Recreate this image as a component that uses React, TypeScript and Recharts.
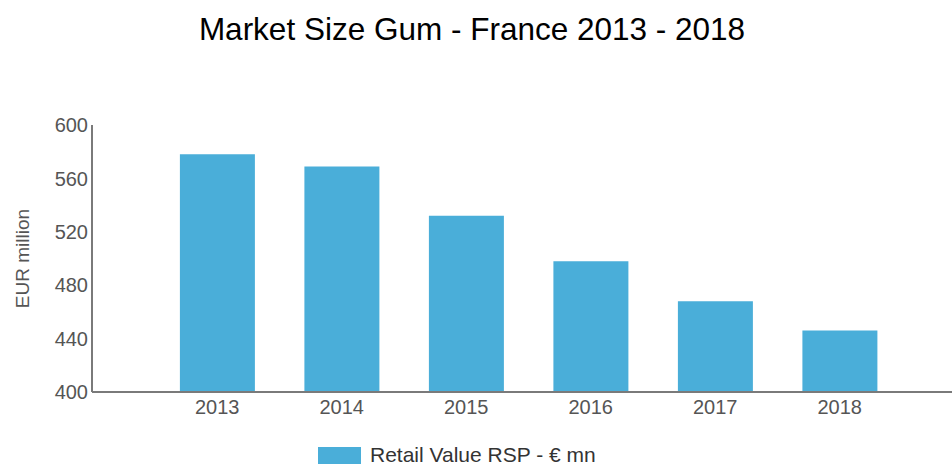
import React from 'react';
import { BarChart, Bar, XAxis, YAxis, Legend } from 'recharts';

const years = ['2013', '2014', '2015', '2016', '2017', '2018'];
const retailValue = [578, 569, 532, 498, 468, 446];
const yTicks = [400, 440, 480, 520, 560, 600];
const seriesName = 'Retail Value RSP - € mn';
const titleText = 'Market Size Gum - France 2013 - 2018';
const yLabel = 'EUR million';

const data = years.map((y, i) => ({ year: y, value: retailValue[i] }));

const FONT = '"Liberation Sans", Arial, sans-serif';
const BAR = '#4aaed9';

const LegendContent = () => (
  <div style={{ display: 'flex', alignItems: 'center', fontFamily: FONT, whiteSpace: 'nowrap', lineHeight: '22px' }}>
    <span style={{ display: 'inline-block', width: 43, height: 17, background: BAR, marginRight: 9 }} />
    <span style={{ fontSize: 21, color: '#333' }}>{seriesName}</span>
  </div>
);

export default function App() {
  return (
    <div style={{ position: 'absolute', left: 0, top: 0, width: 952, height: 467, background: '#fff', fontFamily: FONT }}>
      <div
        style={{
          position: 'absolute',
          left: 0,
          top: 10,
          width: 944,
          textAlign: 'center',
          fontSize: 31.5,
          color: '#000',
          fontFamily: FONT,
          lineHeight: '38px',
          whiteSpace: 'nowrap',
        }}
      >
        {titleText}
      </div>
      <BarChart
        width={952}
        height={467}
        data={data}
        margin={{ top: 125, right: 0, left: 40, bottom: 21 }}
        barCategoryGap="20%"
      >
        <XAxis
          dataKey="year"
          padding={{ left: 63, right: 50 }}
          tickLine={false}
          axisLine={{ stroke: '#7a7a7a', strokeWidth: 2 }}
          tick={{ fill: '#555', fontSize: 20, fontFamily: FONT }}
          height={30}
        />
        <YAxis
          domain={[400, 600]}
          ticks={yTicks}
          width={52}
          tickLine={false}
          tickSize={0}
          tickMargin={4}
          axisLine={{ stroke: '#7a7a7a', strokeWidth: 2 }}
          tick={{ fill: '#555', fontSize: 20, fontFamily: FONT }}
          label={{
            value: yLabel,
            angle: -90,
            position: 'insideLeft',
            offset: 0,
            dx: -18,
            style: { fill: '#555', fontSize: 19, fontFamily: FONT, textAnchor: 'middle' },
          }}
        />
        <Legend
          height={24}
          content={<LegendContent />}
          wrapperStyle={{ left: 318, top: 444, width: 400, height: 24 }}
        />
        <Bar dataKey="value" name={seriesName} fill={BAR} isAnimationActive={false} />
      </BarChart>
    </div>
  );
}
